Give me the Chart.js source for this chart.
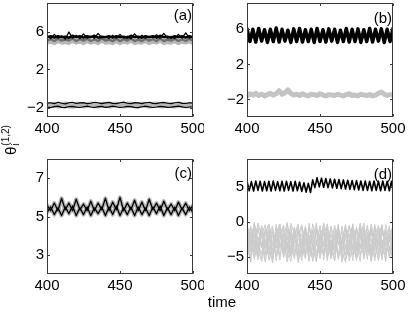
<!DOCTYPE html>
<html>
<head>
<meta charset="utf-8">
<script src="https://cdn.jsdelivr.net/npm/chart.js@4.4.1/dist/chart.umd.min.js"></script>
<style>
html,body{margin:0;padding:0;background:#fff;width:409px;height:313px;overflow:hidden;position:relative;font-family:"Liberation Sans",Arial,sans-serif;}
canvas{position:absolute;}
#ylab{position:absolute;left:11px;top:140px;transform:translate(-50%,-50%) rotate(-90deg);font-size:15px;white-space:nowrap;color:#000;}
#ylab .ss{display:inline-block;vertical-align:-3px;font-size:10px;line-height:10px;margin-left:1px;}
#ylab .ss span{display:block;}
#xlab{position:absolute;left:222px;top:301px;transform:translate(-50%,-50%);font-size:15px;color:#000;white-space:nowrap;}
</style>
</head>
<body>
<canvas id="ca" width="204" height="156" style="left:0;top:0"></canvas>
<canvas id="cb" width="205" height="156" style="left:204px;top:0"></canvas>
<canvas id="cc" width="204" height="157" style="left:0;top:156px"></canvas>
<canvas id="cd" width="205" height="157" style="left:204px;top:156px"></canvas>
<div id="ylab">θ<span class="ss"><span>(1,2)</span><span>i</span></span></div>
<div id="xlab">time</div>
<script>
// ---- time grids ----
const T41 = [400,402.5,405,407.5,410,412.5,415,417.5,420,422.5,425,427.5,430,432.5,435,437.5,440,442.5,445,447.5,450,452.5,455,457.5,460,462.5,465,467.5,470,472.5,475,477.5,480,482.5,485,487.5,490,492.5,495,497.5,500];
const T51 = [400,402,404,406,408,410,412,414,416,418,420,422,424,426,428,430,432,434,436,438,440,442,444,446,448,450,452,454,456,458,460,462,464,466,468,470,472,474,476,478,480,482,484,486,488,490,492,494,496,498,500];
const T68 = [400,401.5,403,404.5,406,407.5,409,410.5,412,413.5,415,416.5,418,419.5,421,422.5,424,425.5,427,428.5,430,431.5,433,434.5,436,437.5,439,440.5,442,443.5,445,446.5,448,449.5,451,452.5,454,455.5,457,458.5,460,461.5,463,464.5,466,467.5,469,470.5,472,473.5,475,476.5,478,479.5,481,482.5,484,485.5,487,488.5,490,491.5,493,494.5,496,497.5,499,500];

// ---- tick labels ----
const XT = [400,450,500];
const YT_A = [-2,2,6];
const YT_B = [-2,2,6];
const YT_C = [3,5,7];
const YT_D = [-5,0,5];

// ---- panel (a) ----
const A_k1 = [5.6,5.25,5.7,5.3,5.55,5.2,5.95,5.3,5.6,5.25,5.75,5.3,5.5,5.3,5.8,5.35,5.45,5.25,5.6,5.3,5.7,5.3,5.5,5.25,5.75,5.3,5.6,5.3,5.5,5.35,5.65,5.3,5.8,5.3,5.5,5.25,5.7,5.3,5.85,5.3,5.5];
const A_k2 = [5.4,5.5,5.35,5.5,5.4,5.45,5.35,5.55,5.4,5.5,5.35,5.5,5.4,5.55,5.35,5.45,5.4,5.5,5.35,5.5,5.4,5.45,5.35,5.55,5.4,5.45,5.35,5.5,5.4,5.5,5.35,5.55,5.4,5.45,5.35,5.5,5.4,5.5,5.35,5.5,5.4];
const A_dg = [5.05,5.2,5.0,5.25,5.05,5.15,5.05,5.3,5.0,5.2,5.05,5.25,5.0,5.2,5.0,5.3,5.05,5.15,5.0,5.25,5.0,5.2,5.05,5.3,5.0,5.15,5.0,5.25,5.05,5.2,5.0,5.3,5.0,5.15,5.05,5.25,5.0,5.2,5.0,5.25,5.05];
const A_g1 = [4.8,4.9,4.75,4.95,4.8,4.85,4.75,5.0,4.8,4.9,4.75,4.95,4.8,4.9,4.75,5.0,4.8,4.85,4.75,4.95,4.75,4.9,4.8,5.0,4.75,4.85,4.8,4.95,4.75,4.9,4.8,5.0,4.75,4.85,4.8,4.95,4.75,4.9,4.8,4.95,4.75];
const A_band = [-1.72,-1.78,-1.7,-1.8,-1.74,-1.68,-1.76,-1.82,-1.72,-1.7,-1.78,-1.74,-1.68,-1.76,-1.8,-1.72,-1.7,-1.78,-1.74,-1.7,-1.76,-1.8,-1.72,-1.68,-1.76,-1.78,-1.7,-1.74,-1.8,-1.72,-1.68,-1.76,-1.78,-1.7,-1.74,-1.8,-1.72,-1.7,-1.78,-1.74,-1.76];
const A_b1 = [-1.55,-1.5,-1.6,-1.45,-1.55,-1.62,-1.5,-1.45,-1.58,-1.52,-1.48,-1.6,-1.55,-1.45,-1.5,-1.6,-1.52,-1.46,-1.56,-1.6,-1.5,-1.44,-1.55,-1.6,-1.48,-1.52,-1.6,-1.5,-1.45,-1.56,-1.6,-1.5,-1.46,-1.55,-1.6,-1.5,-1.45,-1.56,-1.58,-1.5,-1.55];
const A_b2 = [-1.95,-2.0,-1.9,-1.85,-1.98,-2.02,-1.9,-1.88,-1.96,-2.0,-1.92,-1.86,-1.95,-2.0,-1.9,-1.88,-1.98,-1.94,-1.86,-1.92,-2.0,-1.95,-1.88,-1.9,-1.98,-2.02,-1.92,-1.86,-1.94,-2.0,-1.95,-1.88,-1.9,-1.98,-1.96,-1.9,-1.86,-1.94,-2.0,-1.95,-1.92];

// ---- panel (b) ----
const B_k = [6.05,4.6,6.0,4.55,6.1,4.65,5.95,4.5,6.0,4.6,6.15,4.55,6.0,4.65,5.9,4.5,6.05,4.6,6.1,4.55,5.95,4.6,6.0,4.5,6.1,4.6,5.95,4.55,6.05,4.65,6.0,4.5,5.9,4.6,6.1,4.55,6.0,4.6,6.05,4.5,5.95,4.6,6.1,4.55,6.0,4.65,6.05,4.5,6.0,4.6,6.1];
const B_g = [-1.6,-1.35,-1.5,-1.3,-1.55,-1.4,-1.6,-1.45,-1.3,-1.5,-1.35,-1.0,-1.4,-1.25,-0.9,-1.3,-1.5,-1.4,-1.55,-1.35,-1.5,-1.6,-1.4,-1.45,-1.55,-1.35,-1.5,-1.6,-1.45,-1.5,-1.55,-1.4,-1.5,-1.6,-1.45,-1.35,-1.55,-1.5,-1.6,-1.4,-1.5,-1.55,-1.45,-1.6,-1.5,-1.3,-1.15,-1.4,-1.55,-1.45,-1.5];

// ---- panel (c) ----
const C_k1 = [5.6,5.3,5.7,5.3,5.95,5.35,5.7,5.3,5.9,5.35,5.65,5.3,5.8,5.3,5.7,5.35,5.95,5.3,5.75,5.35,6.0,5.3,5.7,5.35,5.85,5.3,5.75,5.3,5.9,5.35,5.7,5.3,5.8,5.35,5.65,5.3,5.75,5.35,5.7,5.3,5.6];
const C_k2 = [5.2,5.5,5.1,5.45,5.05,5.5,5.15,5.55,5.05,5.45,5.1,5.5,5.05,5.45,5.15,5.5,5.05,5.5,5.1,5.55,5.05,5.45,5.1,5.5,5.05,5.5,5.1,5.45,5.05,5.5,5.15,5.55,5.05,5.45,5.1,5.5,5.05,5.45,5.1,5.5,5.2];

// ---- panel (d) ----
const D_k = [5.8,4.45,5.75,4.4,5.85,4.5,5.8,4.4,5.75,4.45,5.8,4.4,5.85,4.5,5.75,4.45,5.8,4.4,5.8,4.5,5.75,4.4,5.8,4.45,5.7,4.35,5.6,4.25,5.5,4.2,6.0,4.9,6.3,5.0,6.25,4.95,6.2,4.9,6.15,4.85,6.1,4.8,6.05,4.75,6.0,4.7,5.95,4.65,5.9,4.6,5.9,4.55,5.85,4.5,5.85,4.5,5.8,4.45,5.85,4.5,5.8,4.45,5.85,4.5,5.8,4.45,5.8,4.5];
const D_g1 = [-0.2,-3.5,-1.0,-4.8,-0.5,-2.9,-5.2,-1.3,-3.8,-0.4,-5.0,-2.2,-4.4,-0.8,-3.1,-5.6,-1.5,-4.0,-0.3,-2.6,-5.3,-1.1,-3.6,-0.6,-4.7,-2.0,-5.5,-0.9,-3.3,-1.8,-4.9,-0.2,-2.8,-5.1,-1.4,-4.2,-0.5,-3.0,-5.4,-1.7,-3.9];
const D_g2 = [-2.5,-5.6,-0.7,-3.2,-4.6,-1.6,-0.3,-4.1,-2.4,-5.5,-1.2,-3.7,-0.6,-5.0,-2.1,-0.4,-4.4,-1.9,-5.7,-3.0,-0.8,-4.5,-2.3,-5.2,-0.5,-3.4,-1.3,-4.8,-2.6,-5.6,-0.7,-3.9,-1.6,-4.3,-0.3,-2.7,-5.3,-1.0,-3.5,-0.6,-4.6];
const D_g3 = [-4.8,-1.5,-3.9,-0.2,-2.0,-5.4,-3.1,-0.9,-5.6,-2.7,-0.5,-4.6,-1.8,-3.3,-5.5,-2.4,-0.7,-3.6,-1.4,-4.9,-2.9,-0.4,-5.1,-1.7,-3.8,-0.3,-4.4,-2.5,-0.6,-3.7,-5.3,-1.2,-4.1,-2.2,-5.5,-0.8,-3.4,-4.7,-1.1,-5.0,-2.3];
const D_g4 = [-1.2,-4.3,-2.8,-5.5,-1.9,-0.4,-4.6,-3.3,-1.0,-4.9,-2.6,-5.8,-3.5,-1.3,-4.8,-0.6,-2.9,-5.1,-3.9,-1.0,-4.2,-2.7,-0.9,-3.9,-5.6,-1.5,-2.9,-0.4,-5.0,-1.4,-3.1,-5.7,-0.6,-3.5,-2.4,-5.6,-1.9,-0.4,-4.4,-2.8,-0.5];
const D_g5 = [-3.4,-0.6,-5.0,-2.2,-3.5,-4.8,-1.2,-5.7,-0.8,-3.1,-4.3,-0.3,-2.7,-5.4,-1.0,-3.9,-5.3,-0.8,-2.6,-5.6,-1.6,-3.3,-4.6,-0.8,-2.4,-5.2,-0.6,-3.8,-4.9,-0.7,-2.4,-4.5,-3.3,-0.5,-4.7,-1.9,-4.1,-2.6,-5.7,-0.9,-3.2];
const D_g6 = [-5.5,-2.3,-0.3,-4.0,-5.7,-2.5,-4.0,-1.9,-3.2,-1.4,-5.2,-2.9,-4.7,-2.1,-0.3,-4.7,-2.3,-5.7,-1.1,-3.5,-0.5,-5.5,-1.9,-3.0,-1.3,-4.6,-3.4,-1.2,-2.1,-4.1,-1.5,-0.7,-5.4,-1.7,-3.9,-0.4,-4.6,-1.6,-3.0,-4.3,-1.1];
const D_g7 = [-0.8,-2.9,-4.4,-1.0,-3.2,-5.8,-2.0,-0.6,-4.3,-3.6,-1.7,-4.0,-0.2,-1.9,-3.7,-5.1,-3.4,-2.5,-4.8,-0.6,-3.8,-1.6,-5.6,-2.7,-4.1,-0.9,-5.8,-3.5,-1.7,-4.8,-2.9,-3.6,-1.2,-5.4,-1.0,-3.3,-0.8,-5.2,-2.2,-3.6,-5.6];
const D_g8 = [-2.0,-5.1,-1.8,-4.6,-0.9,-3.7,-0.7,-5.2,-1.6,-0.3,-2.8,-5.3,-1.4,-4.3,-2.6,-1.8,-5.1,-0.2,-3.6,-4.4,-2.0,-4.8,-0.4,-4.4,-0.7,-3.0,-2.2,-5.4,-3.9,-0.3,-4.0,-1.9,-4.8,-2.8,-0.7,-5.1,-2.8,-0.7,-4.6,-2.0,-1.6];
const D_g9 = [-1.5,-4.0,-0.1,-2.7,-5.3,-0.9,-3.4,-5.9,-2.2,-0.5,-3.9,-1.1,-5.0,-2.4,-0.4,-4.5,-1.7,-3.1,-5.5,-0.8,-2.5,-4.9,-0.3,-3.7,-1.8,-5.4,-2.9,-0.6,-4.1,-1.3,-5.6,-2.6,-0.2,-3.8,-5.1,-1.6,-3.3,-0.5,-4.7,-2.1,-0.7];
const D_g10 = [-4.2,-0.9,-2.6,-5.0,-1.4,-3.6,-0.5,-2.9,-4.9,-1.8,-0.6,-3.4,-5.7,-2.8,-1.2,-4.1,-0.7,-5.4,-3.2,-1.5,-4.6,-0.2,-2.1,-5.3,-3.0,-1.0,-4.3,-5.8,-2.3,-0.4,-3.5,-1.1,-5.2,-2.9,-4.4,-0.6,-2.0,-5.5,-1.3,-3.8,-4.9];
const D_g11 = [-0.5,-2.2,-5.4,-3.0,-0.7,-4.4,-2.0,-5.1,-0.4,-3.9,-2.3,-0.1,-4.1,-1.6,-5.3,-2.8,-4.6,-0.9,-3.5,-5.8,-1.9,-0.7,-4.0,-2.6,-5.6,-1.4,-3.2,-4.8,-0.5,-2.7,-4.2,-0.3,-3.6,-1.5,-5.7,-3.1,-1.2,-4.0,-0.4,-2.5,-5.0];
const D_g12 = [-3.0,-5.8,-2.1,-0.6,-3.8,-1.2,-5.5,-4.1,-2.9,-0.9,-4.7,-1.9,-3.0,-0.8,-5.9,-3.5,-1.1,-4.4,-2.2,-0.2,-5.0,-3.2,-1.4,-4.9,-2.0,-0.6,-3.9,-1.8,-5.6,-3.4,-0.9,-4.8,-2.4,-0.8,-4.2,-2.9,-5.6,-3.0,-1.5,-5.2,-2.7];

// ---- helpers ----
const FONT = {family:'"Liberation Sans", Arial, sans-serif', size:15};
const BLACK = '#000000';
const GRAY_D = '#cbcbcb';
function pts(T, V){ return V.map((v,i)=>({x:T[i], y:v})); }
function ds(T, V, color, width){
  return {data:pts(T,V), borderColor:color, borderWidth:width, pointRadius:0, fill:false, tension:0, borderJoinStyle:'round', borderCapStyle:'round'};
}
const minus = v => String(v).replace('-', '\u2212');

const framePlugin = {
  id:'frame',
  afterDraw(chart, args, o){
    const ctx = chart.ctx, a = chart.chartArea, x = chart.scales.x, y = chart.scales.y;
    ctx.save();
    ctx.strokeStyle = '#3a3a3a'; ctx.lineWidth = 1;
    const L = Math.round(a.left)+0.5, R = Math.round(a.right)-0.5, Tp = Math.round(a.top)+0.5, B = Math.round(a.bottom)-0.5;
    ctx.strokeRect(L, Tp, R-L, B-Tp);
    ctx.beginPath();
    XT.forEach(v=>{ const px = Math.round(x.getPixelForValue(v))+0.5; ctx.moveTo(px,B); ctx.lineTo(px,B-2.5); ctx.moveTo(px,Tp); ctx.lineTo(px,Tp+2.5); });
    o.yt.forEach(v=>{ const py = Math.round(y.getPixelForValue(v))+0.5; ctx.moveTo(L,py); ctx.lineTo(L+2.5,py); ctx.moveTo(R,py); ctx.lineTo(R-2.5,py); });
    ctx.stroke();
    ctx.fillStyle = '#000';
    ctx.font = '15px "Liberation Sans", Arial, sans-serif';
    ctx.textAlign = 'right'; ctx.textBaseline = 'middle';
    ctx.fillText(o.label, a.right - 1, o.labelY);
    ctx.restore();
  }
};

function makeChart(id, p){
  return new Chart(document.getElementById(id), {
    type:'line',
    data:{datasets:p.datasets},
    options:{
      responsive:false, animation:false, devicePixelRatio:1,
      layout:{padding:{top:p.top, right:p.right, left:0, bottom:0}},
      plugins:{legend:{display:false}, tooltip:{enabled:false}, frame:{yt:p.yt, label:p.label, labelY:p.labelY}},
      scales:{
        x:{type:'linear', min:400, max:500,
           afterBuildTicks:s=>{ s.ticks = XT.map(v=>({value:v})); },
           afterFit:s=>{ s.height = p.xh; s.paddingLeft = 0; s.paddingRight = 0; },
           grid:{display:false, drawTicks:false}, border:{display:false},
           ticks:{font:FONT, color:BLACK, padding:3, maxRotation:0, autoSkip:false}},
        y:{type:'linear', min:p.ymin, max:p.ymax,
           afterBuildTicks:s=>{ s.ticks = p.yt.map(v=>({value:v})); },
           afterFit:s=>{ s.width = p.yw; s.paddingTop = 0; s.paddingBottom = 0; },
           grid:{display:false, drawTicks:false}, border:{display:false},
           ticks:{font:FONT, color:BLACK, padding:3, callback:v=>minus(v), autoSkip:false}}
      }
    },
    plugins:[framePlugin]
  });
}

// datasets listed front-most first
makeChart('ca', {
  ymin:-3, ymax:9, yt:YT_A, label:'(a)', labelY:15.5, top:3, right:11, yw:47, xh:39,
  datasets:[
    ds(T41, A_k1, BLACK, 1.3),
    ds(T41, A_k2, BLACK, 2.5),
    ds(T41, A_dg, '#6e6e6e', 2.5),
    ds(T41, A_g1, '#b8b8b8', 3.5),
    ds(T41, A_b1, BLACK, 1.2),
    ds(T41, A_b2, BLACK, 1.2),
    ds(T41, A_band, '#b8b8b8', 6)
  ]
});
makeChart('cb', {
  ymin:-4, ymax:9, yt:YT_B, label:'(b)', labelY:18.5, top:3, right:16, yw:43, xh:39,
  datasets:[
    ds(T51, B_k, BLACK, 3.5),
    ds(T51, B_g, '#c4c4c4', 5)
  ]
});
makeChart('cc', {
  ymin:2, ymax:8, yt:YT_C, label:'(c)', labelY:18, top:3, right:11, yw:47, xh:39,
  datasets:[
    ds(T41, C_k1, BLACK, 1.3),
    ds(T41, C_k2, BLACK, 1.3),
    ds(T41, C_k1, '#b4b4b4', 4),
    ds(T41, C_k2, '#b4b4b4', 4)
  ]
});
makeChart('cd', {
  ymin:-7.5, ymax:9, yt:YT_D, label:'(d)', labelY:19, top:3, right:16, yw:43, xh:39,
  datasets:[
    ds(T68, D_k, BLACK, 1.6),
    ds(T41, D_g1, GRAY_D, 1),
    ds(T41, D_g2, GRAY_D, 1),
    ds(T41, D_g3, GRAY_D, 1),
    ds(T41, D_g4, GRAY_D, 1),
    ds(T41, D_g5, GRAY_D, 1),
    ds(T41, D_g6, GRAY_D, 1),
    ds(T41, D_g7, GRAY_D, 1),
    ds(T41, D_g8, GRAY_D, 1),
    ds(T41, D_g9, GRAY_D, 1),
    ds(T41, D_g10, GRAY_D, 1),
    ds(T41, D_g11, GRAY_D, 1),
    ds(T41, D_g12, GRAY_D, 1)
  ]
});
</script>
</body>
</html>
